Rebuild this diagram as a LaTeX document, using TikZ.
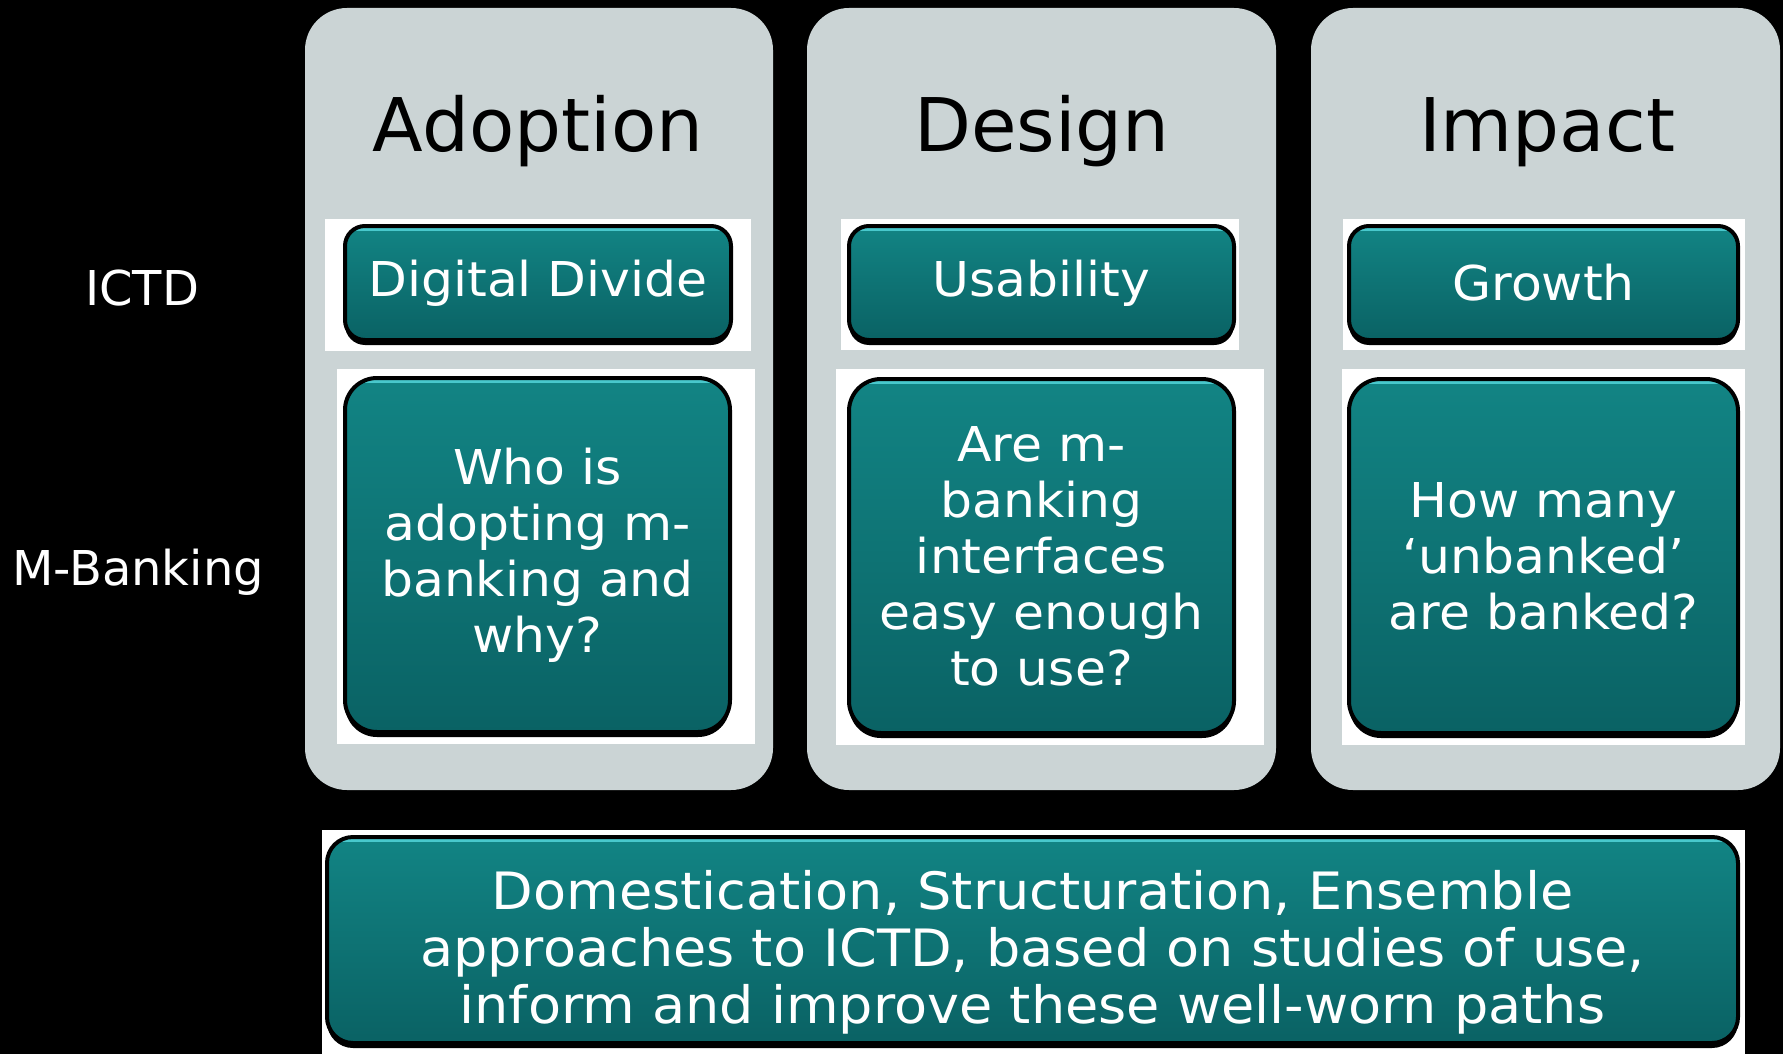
\documentclass[tikz,border=0pt]{standalone}
\usepackage{fontspec}
\setmainfont{DejaVu Sans}
\newfontfamily\boxfont[FakeStretch=1.05,Ligatures=TeX]{DejaVu Sans}
\usetikzlibrary{shadows}

\definecolor{panelgray}{RGB}{203,212,213}
\definecolor{tealtop}{RGB}{18,132,132}
\definecolor{tealbot}{RGB}{10,98,100}
\definecolor{tealhi}{RGB}{72,200,204}

\tikzset{
  panel/.style={fill=panelgray, rounded corners=42pt},
  paper/.style={fill=white},
  heading/.style={anchor=base, text=black, font=\fontsize{74}{90}\selectfont},
  rowlabel/.style={anchor=base, text=white, font=\fontsize{48}{56}\selectfont},
  boxtext/.style={text=white, align=center, inner sep=0pt,
    font=\boxfont\fontsize{48}{56}\selectfont},
  tealbox/.style={draw=black, line width=4pt, rounded corners=#1,
    top color=tealtop, bottom color=tealbot,
    general shadow={fill=black, shadow yshift=-5pt},
    boxtext,
    path picture={\draw[tealhi, line width=9pt]
      (path picture bounding box.north west) -- (path picture bounding box.north east);}},
  tealbox/.default=20pt,
}

\begin{document}
\begin{tikzpicture}[x=1pt, y=-1pt]
  % page and background
  \useasboundingbox (0,0) rectangle (1783,1054);
  \fill[black] (0,0) rectangle (1783,1054);

  % the three columns
  \fill[panel] (305,8) rectangle (773,790);
  \fill[panel] (807,8) rectangle (1276,790);
  \fill[panel] (1311,8) rectangle (1780,790);

  \node[heading] (adoption) at (538,152) {Adoption};
  \node[heading] (design) at (1042,152) {Design};
  \node[heading] (impact) at (1547,152) {Impact};

  % row labels
  \node[rowlabel] (ictd) at (142,305) {ICTD};
  \node[rowlabel] (mbank) at (138,585) {M-Banking};

  % white backing of the boxes
  \fill[paper] (325,219) rectangle (751,351);
  \fill[paper] (337,369) rectangle (755,744);
  \fill[paper] (841,219) rectangle (1239,350);
  \fill[paper] (836,369) rectangle (1264,745);
  \fill[paper] (1343,219) rectangle (1745,350);
  \fill[paper] (1342,369) rectangle (1745,745);
  \fill[paper] (322,830) rectangle (1745,1054);

  % ICTD row
  \node[tealbox, minimum width=386pt, minimum height=114pt] (divide) at (538,283) {Digital Divide};
  \node[tealbox, minimum width=385pt, minimum height=114pt] (usability) at (1041.5,283) {Usability};
  \node[tealbox, minimum width=389pt, minimum height=114pt] (growth) at (1543.5,283) {Growth};

  % M-Banking row
  \node[tealbox=32pt, minimum width=385pt, minimum height=354pt] (who) at (537.5,555)
    {Who is\\adopting m-\\banking and\\why?};
  \node[tealbox=32pt, minimum width=385pt, minimum height=354pt] (easy) at (1041.5,556)
    {Are m-\\banking\\interfaces\\easy enough\\to use?};
  \node[tealbox=32pt, minimum width=389pt, minimum height=354pt] (banked) at (1543.5,556)
    {How many\\‘unbanked’\\are banked?};

  % base box
  \node[tealbox=26pt, minimum width=1411pt, minimum height=206pt] (base) at (1032.5,940) {};
  \node[boxtext, font=\boxfont\fontsize{51.5}{57}\selectfont] (basetext) at ([yshift=-12pt]base.center)
    {Domestication, Structuration, Ensemble\\approaches to ICTD, based on studies of use,\\inform and improve these well-worn paths};
\end{tikzpicture}
\end{document}
